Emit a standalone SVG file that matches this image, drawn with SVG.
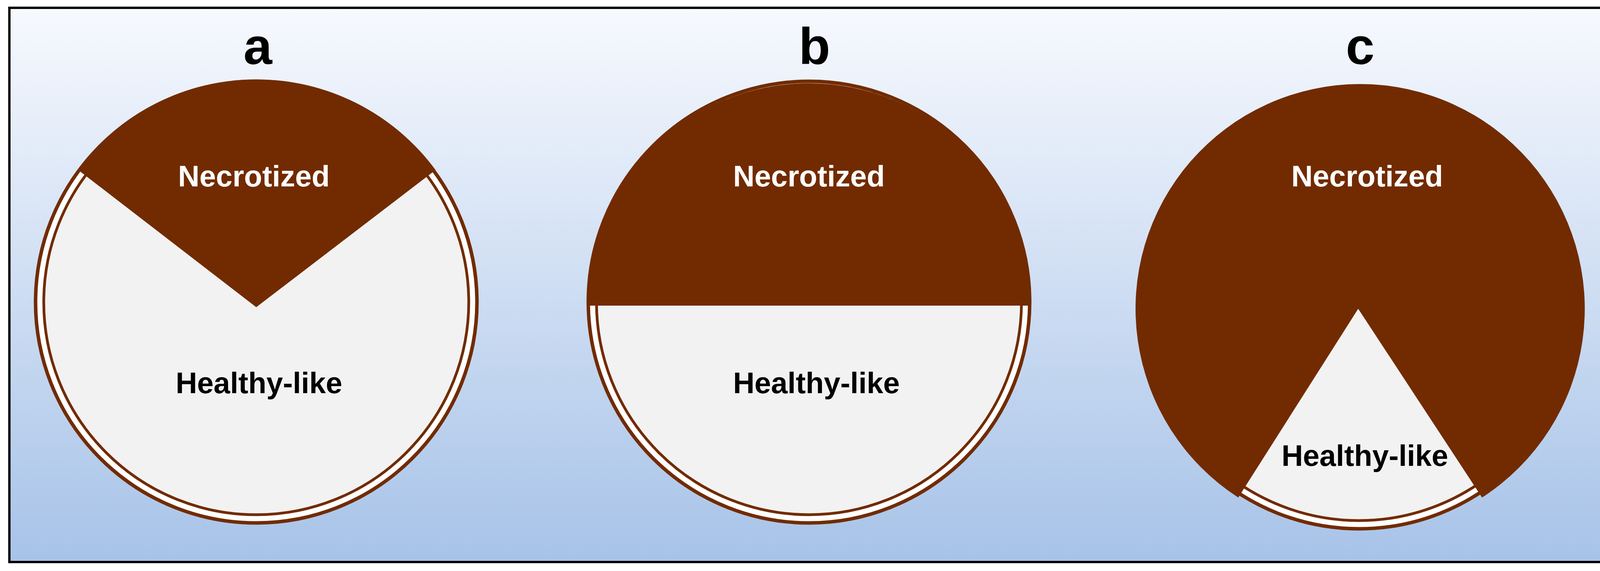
<svg xmlns="http://www.w3.org/2000/svg" width="4143" height="1461" viewBox="0 0 4143 1461">
<defs>
<linearGradient id="bg" x1="0" y1="0" x2="0" y2="1">
<stop offset="0" stop-color="#f7f9fe"/>
<stop offset="1" stop-color="#a7c3e8"/>
</linearGradient>
</defs>
<style>
.ring{fill:#ffffff;stroke:#722b00;stroke-width:9}
.inner{fill:#f2f2f2;stroke:#722b00;stroke-width:7}
.dark{fill:#722b00}
.lbl{font-family:"Liberation Sans",Arial,sans-serif;font-weight:bold;text-anchor:middle}
.big{font-size:132px;fill:#000}
.w{font-size:76px;fill:#ffffff}
.k{font-size:76px;fill:#000}
</style>
<rect x="24" y="20" width="4096" height="1418" fill="url(#bg)" stroke="#000" stroke-width="6"/>
<g id="panel-a">
<circle class="ring" cx="656" cy="773" r="565"/>
<circle class="inner" cx="656" cy="773" r="544"/>
<path class="dark" d="M656 786 L199 434 A569 569 0 0 1 1115 435 Z"/>
<text class="lbl big" x="660" y="164">a</text>
<text class="lbl w" x="650" y="477">Necrotized</text>
<text class="lbl k" x="663" y="1006">Healthy-like</text>
</g>
<g id="panel-b">
<circle class="ring" cx="2071" cy="773" r="565"/>
<circle class="inner" cx="2071" cy="773" r="544"/>
<path class="dark" d="M1502 782 A569 569 0 1 1 2640 782 Z"/>
<text class="lbl big" x="2085" y="164">b</text>
<text class="lbl w" x="2071" y="477">Necrotized</text>
<text class="lbl k" x="2090" y="1006">Healthy-like</text>
</g>
<g id="panel-c">
<circle class="ring" cx="3479" cy="788" r="565"/>
<circle class="inner" cx="3479" cy="788" r="544"/>
<path class="dark" d="M3477 790 L3170 1273 A575 575 0 1 1 3794 1273 Z"/>
<text class="lbl big" x="3482" y="164">c</text>
<text class="lbl w" x="3500" y="477">Necrotized</text>
<text class="lbl k" x="3494" y="1192">Healthy-like</text>
</g>
<g id="connectors"/>
</svg>
